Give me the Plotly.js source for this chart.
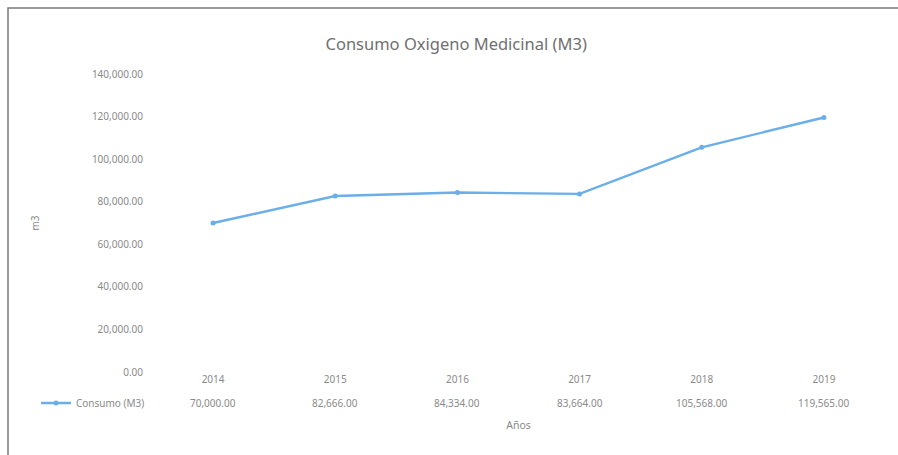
<!DOCTYPE html>
<html>
<head>
<meta charset="utf-8">
<script src="https://cdn.plot.ly/plotly-3.0.1.min.js"></script>
<style>html,body{margin:0;padding:0;background:#fff;}#chart{width:898px;height:455px;}</style>
</head>
<body>
<div id="chart"></div>
<script>
const years = ["2014", "2015", "2016", "2017", "2018", "2019"];
const consumo = [70000.00, 82666.00, 84334.00, 83664.00, 105568.00, 119565.00];
const valueLabels = ["70,000.00", "82,666.00", "84,334.00", "83,664.00", "105,568.00", "119,565.00"];
const seriesName = "Consumo (M3)";
const chartTitle = "Consumo Oxigeno Medicinal (M3)";
const yTitle = "m3";
const xTitle = "Años";

const W = 898, H = 455;
const M = {l: 152, r: 13, t: 74, b: 83};
const pw = W - M.l - M.r, ph = H - M.t - M.b;
const px = v => (v - M.l) / pw;
const py = v => (H - M.b - v) / ph;

const font = "Noto Sans, Open Sans, sans-serif";
const gray = "#8a8a8a";

const trace = {
  x: years, y: consumo, type: "scatter", mode: "lines+markers",
  name: seriesName,
  line: {color: "#6aaeea", width: 2.4},
  marker: {color: "#6aaeea", size: 5, symbol: "circle"}
};

const annotations = years.map((yr, i) => ({
  x: i, xref: "x", y: py(403), yref: "paper",
  text: valueLabels[i], showarrow: false, yanchor: "middle", xanchor: "center",
  font: {family: font, size: 10, color: gray}
}));

const layout = {
  width: W, height: H,
  margin: M,
  paper_bgcolor: "#ffffff", plot_bgcolor: "#ffffff",
  showlegend: true,
  legend: {x: px(36), y: py(403), xanchor: "left", yanchor: "middle",
    font: {family: font, size: 10, color: gray}, bgcolor: "rgba(0,0,0,0)"},
  title: {text: chartTitle, x: 0.508, xanchor: "center", y: 1 - 44 / H, yanchor: "middle",
    font: {family: font, size: 16.5, color: "#707070"}},
  xaxis: {
    type: "category", range: [-0.5, 5.5], showgrid: false, zeroline: false,
    showline: false, ticks: "", tickfont: {family: font, size: 10, color: gray},
    title: {text: xTitle, standoff: 36, font: {family: font, size: 10.5, color: gray}},
    automargin: false
  },
  yaxis: {
    range: [0, 140000], dtick: 20000, tickformat: ",.2f",
    showgrid: false, zeroline: false, showline: false, ticks: "",
    ticklabelstandoff: 8,
    tickfont: {family: font, size: 10, color: gray},
    title: {text: yTitle, standoff: 50, font: {family: font, size: 10, color: gray}},
    automargin: false
  },
  annotations: annotations,
  shapes: [{
    type: "rect", xref: "paper", yref: "paper",
    x0: px(8), x1: px(905), y0: py(462), y1: py(8),
    line: {color: "#7a7a7a", width: 1.5}, fillcolor: "rgba(0,0,0,0)", layer: "below"
  }]
};

Plotly.newPlot("chart", [trace], layout, {displayModeBar: false, staticPlot: true});
</script>
</body>
</html>
